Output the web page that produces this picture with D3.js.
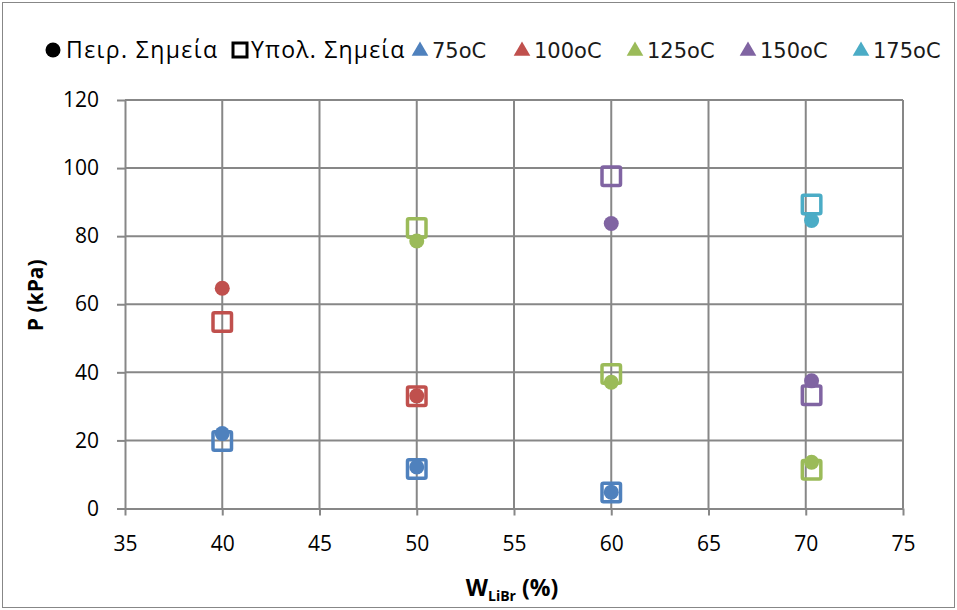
<!DOCTYPE html>
<html>
<head>
<meta charset="utf-8">
<script src="https://cdn.jsdelivr.net/npm/d3@7"></script>
<style>
  html, body { margin: 0; padding: 0; background: #fff; }
  svg { display: block; }
</style>
</head>
<body>
<svg id="chart" width="957" height="610"></svg>
<script>
// ---------- data ----------
const seriesNames = ["75oC", "100oC", "125oC", "150oC", "175oC"];
const seriesColors = ["#4F81BD", "#C0504D", "#9BBB59", "#8064A2", "#4BACC6"];

const x75 = [40, 50, 60];
const exp75 = [22.0, 12.2, 4.8];
const calc75 = [19.8, 11.6, 4.7];

const x100 = [40, 50];
const exp100 = [64.7, 33.1];
const calc100 = [54.8, 33.0];

const x125 = [50, 60, 70.3];
const exp125 = [78.6, 37.1, 13.6];
const calc125 = [82.4, 39.5, 11.4];

const x150 = [60, 70.3];
const exp150 = [83.7, 37.5];
const calc150 = [97.6, 33.3];

const x175 = [70.3];
const exp175 = [84.6];
const calc175 = [89.3];

const xTicks = [35, 40, 45, 50, 55, 60, 65, 70, 75];
const yTicks = [0, 20, 40, 60, 80, 100, 120];

const legendExp = "Πειρ. Σημεία";
const legendCalc = "Υπολ. Σημεία";

const series = [
  { name: seriesNames[0], color: seriesColors[0], x: x75, exp: exp75, calc: calc75 },
  { name: seriesNames[1], color: seriesColors[1], x: x100, exp: exp100, calc: calc100 },
  { name: seriesNames[2], color: seriesColors[2], x: x125, exp: exp125, calc: calc125 },
  { name: seriesNames[3], color: seriesColors[3], x: x150, exp: exp150, calc: calc150 },
  { name: seriesNames[4], color: seriesColors[4], x: x175, exp: exp175, calc: calc175 }
];

// ---------- layout ----------
const W = 957, H = 610;
const plot = { left: 125, right: 903, top: 100, bottom: 508.5 };
const gridColor = "#878787";
const font = "'Open Sans', 'Noto Sans', sans-serif";
const legendFont = "'DejaVu Sans', Verdana, sans-serif";

const svg = d3.select("#chart");

// outer chart border
svg.append("rect")
  .attr("x", 2.5).attr("y", 2.5)
  .attr("width", W - 5).attr("height", H - 5)
  .attr("fill", "#fff")
  .attr("stroke", "#878787").attr("stroke-width", 1);

const x = d3.scaleLinear().domain([35, 75]).range([plot.left, plot.right]);
const y = d3.scaleLinear().domain([0, 120]).range([plot.bottom, plot.top]);

// gridlines
const grid = svg.append("g");
grid.selectAll("line.v").data(xTicks.slice(1)).join("line")
  .attr("x1", d => x(d)).attr("x2", d => x(d))
  .attr("y1", plot.top).attr("y2", plot.bottom)
  .attr("stroke", gridColor).attr("stroke-width", 2);
grid.selectAll("line.h").data(yTicks.slice(1)).join("line")
  .attr("x1", plot.left).attr("x2", plot.right)
  .attr("y1", d => y(d)).attr("y2", d => y(d))
  .attr("stroke", gridColor).attr("stroke-width", 2);

// axes
const xAxis = d3.axisBottom(x).tickValues(xTicks).tickSize(7).tickPadding(21).tickSizeOuter(0);
const yAxis = d3.axisLeft(y).tickValues(yTicks).tickSize(8).tickPadding(18).tickSizeOuter(0);

const gx = svg.append("g").attr("transform", `translate(0,${plot.bottom})`).call(xAxis);
const gy = svg.append("g").attr("transform", `translate(${plot.left},0)`).call(yAxis);

[gx, gy].forEach(g => {
  g.selectAll("path.domain").attr("stroke", gridColor).attr("stroke-width", 2);
  g.selectAll(".tick line").attr("stroke", gridColor).attr("stroke-width", 2);
  g.selectAll(".tick text")
    .attr("font-family", font).attr("font-size", 21).attr("fill", "#000");
});

// axis titles
const xt = svg.append("text")
  .attr("x", 512).attr("y", 596)
  .attr("text-anchor", "middle")
  .attr("font-family", font).attr("font-size", 23).attr("font-weight", "bold");
xt.append("tspan").text("W");
xt.append("tspan").attr("font-size", 14).attr("dy", 5).text("LiBr");
xt.append("tspan").attr("dy", -5).text(" (%)");

svg.append("text")
  .attr("transform", `translate(43,${(plot.top + plot.bottom) / 2 - 9}) rotate(-90)`)
  .attr("text-anchor", "middle")
  .attr("font-family", font).attr("font-size", 21).attr("font-weight", "bold")
  .text("P (kPa)");

// markers
const sqSide = 18.5;
const marks = svg.append("g");
series.forEach(s => {
  const calcPts = s.x.map((xv, i) => ({ x: xv, y: s.calc[i] }));
  const expPts = s.x.map((xv, i) => ({ x: xv, y: s.exp[i] }));
  marks.append("g").selectAll("rect").data(calcPts).join("rect")
    .attr("x", d => x(d.x) - sqSide / 2).attr("y", d => y(d.y) - sqSide / 2)
    .attr("width", sqSide).attr("height", sqSide).attr("rx", 1.5)
    .attr("fill", "none").attr("stroke", s.color).attr("stroke-width", 3.5);
  marks.append("g").selectAll("circle").data(expPts).join("circle")
    .attr("cx", d => x(d.x)).attr("cy", d => y(d.y)).attr("r", 7.5)
    .attr("fill", s.color);
});

// legend
const legY = 50;
const leg = svg.append("g");
leg.append("circle").attr("cx", 53).attr("cy", legY).attr("r", 7.5).attr("fill", "#000");
leg.append("text").attr("x", 66).attr("y", legY + 8)
  .attr("font-family", font).attr("font-size", 23).attr("letter-spacing", 1.4)
  .attr("fill", "#000").text(legendExp);
leg.append("rect").attr("x", 233).attr("y", legY - 7).attr("width", 14).attr("height", 14)
  .attr("fill", "none").attr("stroke", "#000").attr("stroke-width", 3);
leg.append("text").attr("x", 251).attr("y", legY + 8)
  .attr("font-family", font).attr("font-size", 23).attr("letter-spacing", 1.2)
  .attr("fill", "#000").text(legendCalc);

const triX = [420, 522, 635, 748, 861];
const tri = d3.symbol().type(d3.symbolTriangle).size(120);
series.forEach((s, i) => {
  leg.append("path").attr("d", tri)
    .attr("transform", `translate(${triX[i]},${legY + 1})`)
    .attr("fill", s.color);
  leg.append("text").attr("x", triX[i] + 12).attr("y", legY + 8)
    .attr("font-family", legendFont).attr("font-size", 21).attr("fill", "#1a1a1a")
    .text(s.name);
});
</script>
</body>
</html>
